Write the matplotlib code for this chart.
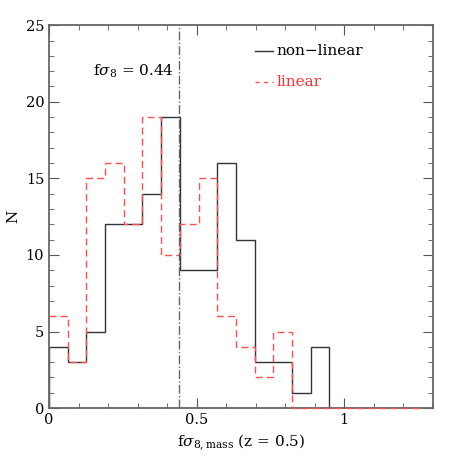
import numpy as np
import matplotlib
matplotlib.use('Agg')
import matplotlib.pyplot as plt
from matplotlib.ticker import MultipleLocator

# Histogrammwerte (Breite der Bins ~0.0633)
bin_width = 0.95 / 15
counts_nonlinear = [4, 3, 5, 12, 12, 14, 19, 9, 9, 16, 11, 3, 3, 1, 4]
counts_linear = [6, 3, 15, 16, 12, 19, 10, 12, 15, 6, 4, 2, 5, 0, 0, 0, 0, 0, 0, 0]
fsigma8_true = 0.44

plt.rcParams['font.family'] = ['DejaVu Serif']
plt.rcParams['mathtext.fontset'] = 'dejavuserif'

fig = plt.figure(figsize=(4.58, 4.58), dpi=100)
ax = fig.add_axes([0.107, 0.109, 0.838, 0.836])

edges_nl = np.arange(len(counts_nonlinear) + 1) * bin_width
edges_lin = np.arange(len(counts_linear) + 1) * bin_width

ax.stairs(counts_nonlinear, edges_nl, baseline=0, color='#333333', linewidth=1.0, zorder=2)
ax.stairs(counts_linear, edges_lin, baseline=None, color='#ff5050',
          linestyle=(0, (5, 3)), linewidth=1.0, zorder=3, clip_on=False)
ax.axvline(fsigma8_true, color='#666666', linestyle='-.', linewidth=1.0, zorder=4)

ax.set_xlim(0, 1.3)
ax.set_ylim(0, 25)
ax.xaxis.set_major_locator(MultipleLocator(0.5))
ax.xaxis.set_minor_locator(MultipleLocator(0.1))
ax.yaxis.set_major_locator(MultipleLocator(5))
ax.yaxis.set_minor_locator(MultipleLocator(1))
ax.set_xticks([0, 0.5, 1])
ax.set_xticklabels(['0', '0.5', '1'])
ax.tick_params(which='both', direction='in', top=True, right=True, labelsize=10.5,
               color='#555555')
ax.tick_params(which='major', length=7)
ax.tick_params(which='minor', length=3.5)
for sp in ax.spines.values():
    sp.set_color('#666666')
    sp.set_linewidth(1.3)
    sp.set_zorder(2.5)

ax.set_xlabel(r'f$\sigma_{8,\mathrm{mass}}$ (z = 0.5)', fontsize=11)
ax.set_ylabel('N', fontsize=11)

ax.text(0.148, 22.0, r'f$\sigma_8$ = 0.44', fontsize=11, va='center')

# Legende von Hand
ax.plot([0.697, 0.758], [23.3, 23.3], color='#333333', linewidth=1.0)
ax.text(0.77, 23.3, 'non\u2212linear', fontsize=11, va='center')
ax.plot([0.697, 0.758], [21.3, 21.3], color='#ff5050', linestyle=(0, (3, 3)), linewidth=1.0)
ax.text(0.77, 21.3, 'linear', fontsize=11, va='center', color='#ff3030')

fig.savefig('out.png', dpi=100)
